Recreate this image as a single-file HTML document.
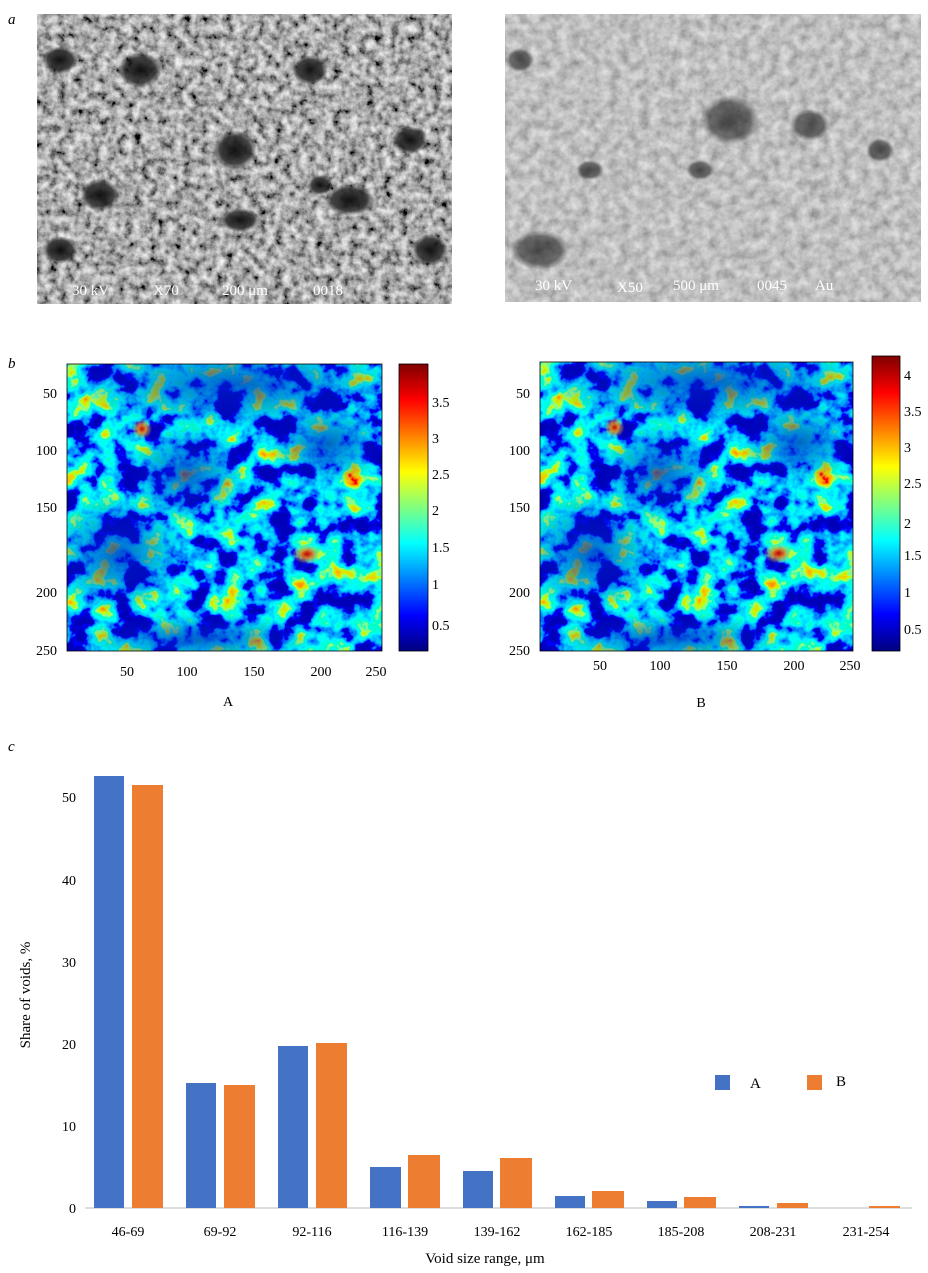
<!DOCTYPE html>
<html><head><meta charset="utf-8"><style>
body{margin:0;background:#fff;width:928px;height:1273px;overflow:hidden;font-family:"Liberation Serif",serif;}
svg{position:absolute;left:0;top:0}
</style></head><body>
<svg width="928" height="1273" viewBox="0 0 928 1273" font-family="Liberation Serif, serif">
<defs>
<filter id="sem1" x="0" y="0" width="100%" height="100%">
<feTurbulence type="fractalNoise" baseFrequency="0.12" numOctaves="4" seed="3"/>
<feColorMatrix values="1.3 0 0 0 -0.25  1.3 0 0 0 -0.25  1.3 0 0 0 -0.25  0 0 0 0 1"/>
</filter>
<filter id="sem2" x="0" y="0" width="100%" height="100%">
<feTurbulence type="fractalNoise" baseFrequency="0.1" numOctaves="4" seed="8"/>
<feColorMatrix values="0.6 0 0 0 0.22  0.6 0 0 0 0.22  0.6 0 0 0 0.22  0 0 0 0 1"/>
</filter>
<filter id="jet" x="0" y="0" width="100%" height="100%">
<feTurbulence type="fractalNoise" baseFrequency="0.04" numOctaves="4" seed="11"/>
<feColorMatrix values="1.5 0 0 0 -0.48  1.5 0 0 0 -0.48  1.5 0 0 0 -0.48  0 0 0 0 1"/>
<feComponentTransfer>
<feFuncR type="table" tableValues="0 0 0 0 0 0.5 1 1 0.5"/>
<feFuncG type="table" tableValues="0 0 0.5 1 1 1 0.5 0 0"/>
<feFuncB type="table" tableValues="0.5 1 1 1 0.5 0 0 0 0"/>
</feComponentTransfer>
</filter>
<clipPath id="hc"><rect width="315" height="287"/></clipPath>
<linearGradient id="cb" x1="0" y1="1" x2="0" y2="0">
<stop offset="0" stop-color="#00007f"/><stop offset="0.125" stop-color="#0000ff"/>
<stop offset="0.375" stop-color="#00ffff"/><stop offset="0.625" stop-color="#ffff00"/>
<stop offset="0.875" stop-color="#ff0000"/><stop offset="1" stop-color="#7f0000"/>
</linearGradient>
<radialGradient id="dk"><stop offset="0" stop-color="#0020c0" stop-opacity="0.7"/><stop offset="1" stop-color="#0020c0" stop-opacity="0"/></radialGradient>
<radialGradient id="hot"><stop offset="0" stop-color="#c00000"/><stop offset="0.4" stop-color="#ff8000" stop-opacity="0.8"/><stop offset="1" stop-color="#ffff00" stop-opacity="0"/></radialGradient>
<radialGradient id="blob"><stop offset="0" stop-color="#111"/><stop offset="0.7" stop-color="#222" stop-opacity="0.8"/><stop offset="1" stop-color="#333" stop-opacity="0"/></radialGradient>
<g id="heat" clip-path="url(#hc)">
<rect width="315" height="287" filter="url(#jet)"/>
<ellipse cx="170" cy="20" rx="170" ry="45" fill="url(#dk)"/>
<ellipse cx="50" cy="190" rx="70" ry="60" fill="url(#dk)"/>
<ellipse cx="120" cy="110" rx="60" ry="50" fill="url(#dk)"/>
<ellipse cx="260" cy="80" rx="60" ry="40" fill="url(#dk)"/>
<ellipse cx="130" cy="275" rx="120" ry="25" fill="url(#dk)"/>
<ellipse cx="240" cy="190" rx="15" ry="10" fill="url(#hot)"/>
<ellipse cx="75" cy="65" rx="10" ry="10" fill="url(#hot)"/>
</g>
</defs>

<text x="8" y="24" font-size="15" font-style="italic">a</text>
<rect x="37" y="14" width="415" height="290" filter="url(#sem1)"/>
<g>
<ellipse cx="140" cy="70" rx="22" ry="18" fill="url(#blob)"/>
<ellipse cx="60" cy="60" rx="18" ry="14" fill="url(#blob)"/>
<ellipse cx="235" cy="150" rx="22" ry="20" fill="url(#blob)"/>
<ellipse cx="310" cy="70" rx="18" ry="15" fill="url(#blob)"/>
<ellipse cx="100" cy="195" rx="20" ry="16" fill="url(#blob)"/>
<ellipse cx="350" cy="200" rx="25" ry="16" fill="url(#blob)"/>
<ellipse cx="240" cy="220" rx="20" ry="12" fill="url(#blob)"/>
<ellipse cx="410" cy="140" rx="18" ry="14" fill="url(#blob)"/>
<ellipse cx="430" cy="250" rx="18" ry="16" fill="url(#blob)"/>
<ellipse cx="60" cy="250" rx="18" ry="14" fill="url(#blob)"/>
<ellipse cx="320" cy="185" rx="12" ry="10" fill="url(#blob)"/>
</g>
<g fill="#fff" font-size="15"><text x="72" y="295">30 kV</text><text x="153" y="295">X70</text><text x="222" y="295">200 μm</text><text x="313" y="295">0018</text></g>

<rect x="505" y="14" width="416" height="288" filter="url(#sem2)"/>
<g opacity="0.7">
<ellipse cx="730" cy="120" rx="30" ry="25" fill="url(#blob)"/>
<ellipse cx="810" cy="125" rx="20" ry="16" fill="url(#blob)"/>
<ellipse cx="540" cy="250" rx="30" ry="20" fill="url(#blob)"/>
<ellipse cx="590" cy="170" rx="14" ry="10" fill="url(#blob)"/>
<ellipse cx="880" cy="150" rx="14" ry="12" fill="url(#blob)"/>
<ellipse cx="700" cy="170" rx="14" ry="10" fill="url(#blob)"/>
<ellipse cx="520" cy="60" rx="14" ry="12" fill="url(#blob)"/>
</g>
<g fill="#fff" font-size="15"><text x="535" y="290">30 kV</text><text x="617" y="292">X50</text><text x="673" y="290">500 μm</text><text x="757" y="290">0045</text><text x="815" y="290">Au</text></g>

<text x="8" y="368" font-size="15" font-style="italic">b</text>
<use href="#heat" x="67" y="364"/>
<rect x="67" y="364" width="315" height="287" fill="none" stroke="#000" stroke-width="0.8"/>
<rect x="399" y="364" width="29" height="287" fill="url(#cb)" stroke="#000" stroke-width="0.8"/>
<g font-size="14">
<g text-anchor="end"><text x="57" y="398">50</text><text x="57" y="455">100</text><text x="57" y="512">150</text><text x="57" y="597">200</text><text x="57" y="655">250</text>
<text x="530" y="398">50</text><text x="530" y="455">100</text><text x="530" y="512">150</text><text x="530" y="597">200</text><text x="530" y="655">250</text></g>
<g text-anchor="middle"><text x="127" y="676">50</text><text x="187" y="676">100</text><text x="254" y="676">150</text><text x="321" y="676">200</text><text x="376" y="676">250</text>
<text x="600" y="670">50</text><text x="660" y="670">100</text><text x="727" y="670">150</text><text x="794" y="670">200</text><text x="850" y="670">250</text>
<text x="228" y="706">A</text><text x="701" y="707">B</text></g>
<g><text x="432" y="407">3.5</text><text x="432" y="443">3</text><text x="432" y="479">2.5</text><text x="432" y="515">2</text><text x="432" y="552">1.5</text><text x="432" y="589">1</text><text x="432" y="630">0.5</text>
<text x="904" y="380">4</text><text x="904" y="416">3.5</text><text x="904" y="452">3</text><text x="904" y="488">2.5</text><text x="904" y="528">2</text><text x="904" y="560">1.5</text><text x="904" y="597">1</text><text x="904" y="634">0.5</text></g>
</g>
<g transform="translate(540 362) scale(0.9937 1.007)"><use href="#heat"/></g>
<rect x="540" y="362" width="313" height="289" fill="none" stroke="#000" stroke-width="0.8"/>
<rect x="872" y="356" width="28" height="295" fill="url(#cb)" stroke="#000" stroke-width="0.8"/>

<text x="8" y="751" font-size="15" font-style="italic">c</text>
<g font-size="14" text-anchor="end"><text x="76" y="1213">0</text><text x="76" y="1131">10</text><text x="76" y="1049">20</text><text x="76" y="967">30</text><text x="76" y="885">40</text><text x="76" y="802">50</text></g>
<text transform="translate(30 995) rotate(-90)" font-size="15" text-anchor="middle">Share of voids, %</text>
<line x1="85" y1="1208" x2="912" y2="1208" stroke="#bbb"/>
<g fill="#4472c4">
<rect x="94" y="776" width="30" height="432"/><rect x="186" y="1083" width="30" height="125"/><rect x="278" y="1046" width="30" height="162"/><rect x="370" y="1167" width="31" height="41"/><rect x="463" y="1171" width="30" height="37"/><rect x="555" y="1196" width="30" height="12"/><rect x="647" y="1201" width="30" height="7"/><rect x="739" y="1206" width="30" height="2"/>
<rect x="715" y="1075" width="15" height="15"/></g>
<g fill="#ed7d31">
<rect x="132" y="785" width="31" height="423"/><rect x="224" y="1085" width="31" height="123"/><rect x="316" y="1043" width="31" height="165"/><rect x="408" y="1155" width="32" height="53"/><rect x="500" y="1158" width="32" height="50"/><rect x="592" y="1191" width="32" height="17"/><rect x="684" y="1197" width="32" height="11"/><rect x="777" y="1203" width="31" height="5"/><rect x="869" y="1206" width="31" height="2"/>
<rect x="807" y="1075" width="15" height="15"/></g>
<g font-size="15"><text x="750" y="1088">A</text><text x="836" y="1086">B</text></g>
<g font-size="14" text-anchor="middle"><text x="128" y="1236">46-69</text><text x="220" y="1236">69-92</text><text x="312" y="1236">92-116</text><text x="405" y="1236">116-139</text><text x="497" y="1236">139-162</text><text x="589" y="1236">162-185</text><text x="681" y="1236">185-208</text><text x="773" y="1236">208-231</text><text x="866" y="1236">231-254</text></g>
<text x="485" y="1263" font-size="15" text-anchor="middle">Void size range, μm</text>
</svg>
</body></html>
